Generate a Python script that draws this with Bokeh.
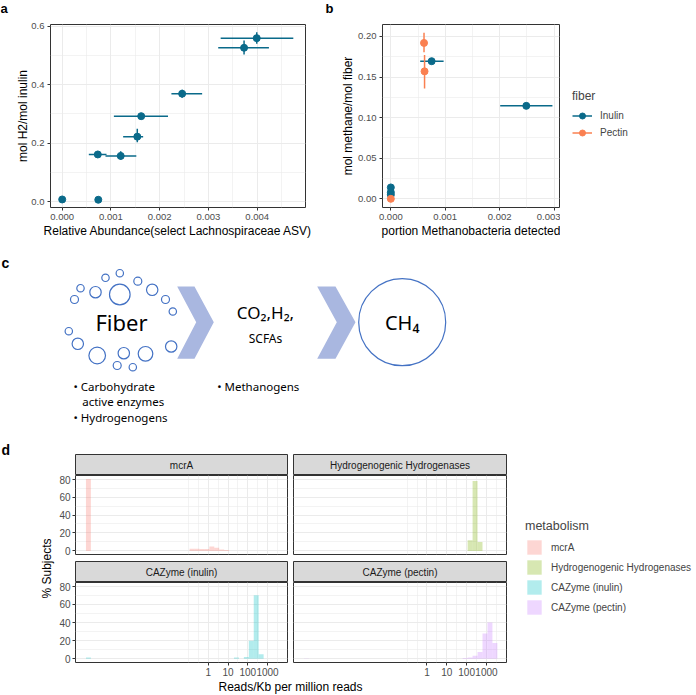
import math
from bokeh.plotting import figure
from bokeh.models import (ColumnDataSource, Range1d, FixedTicker, PrintfTickFormatter,
                          Legend, LegendItem, Grid)
from bokeh.layouts import column, row
from bokeh.core.properties import value
from bokeh.embed import file_html
from bokeh.resources import INLINE

FONT = "Liberation Sans"
CFONT = "Noto Sans"
TEAL = "#0A6A8A"
CORAL = "#FA8051"
GRID = "#EBEBEB"
NAN = float("nan")

# ---------------- panel a data ----------------
a_x   = [0.0,   0.00074, 0.00073,  0.0012,   0.00154, 0.00162, 0.00246, 0.00373, 0.00399]
a_y   = [0.007, 0.006,   0.161,    0.156,    0.222,   0.292,   0.369,   0.526,   0.559]
a_xlo = [0.0,   0.00074, 0.000546, 0.000888, 0.00125, 0.00106, 0.00224, 0.0032,  0.00325]
a_xhi = [0.0,   0.00074, 0.000909, 0.00152,  0.00166, 0.00217, 0.00287, 0.00424, 0.00474]
a_ylo = [0.007, 0.006,   0.152,    0.143,    0.203,   0.284,   0.355,   0.503,   0.540]
a_yhi = [0.007, 0.006,   0.171,    0.172,    0.249,   0.300,   0.382,   0.551,   0.579]
A_XT = [0.0, 0.001, 0.002, 0.003, 0.004]
A_XM = [0.0005, 0.0015, 0.0025, 0.0035, 0.0045]
A_YT = [0.0, 0.2, 0.4, 0.6]
A_YM = [0.1, 0.3, 0.5]

# ---------------- panel b data ----------------
b_in_x   = [0.0, 0.0, 0.0, 0.00075, 0.00249]
b_in_y   = [0.014, 0.008, 0.005, 0.1695, 0.1145]
b_in_xlo = [0.0, 0.0, 0.0, 0.00054, 0.00201]
b_in_xhi = [0.0, 0.0, 0.0, 0.00097, 0.00297]
b_pe_x   = [0.00061, 0.00062, 0.0]
b_pe_y   = [0.192, 0.157, 0.0]
b_pe_ylo = [0.1805, 0.136, 0.0]
b_pe_yhi = [0.2044, 0.177, 0.0]
fibers = ["Inulin", "Pectin"]
B_XT = [0.0, 0.001, 0.002, 0.003]
B_XM = [0.0005, 0.0015, 0.0025]
B_YT = [0.0, 0.05, 0.10, 0.15, 0.20]
B_YM = [0.025, 0.075, 0.125, 0.175]

# ---------------- panel d data (log10 lower bin edges, % subjects) ----------------
d_labels = ["mcrA", "Hydrogenogenic Hydrogenases", "CAZyme (inulin)", "CAZyme (pectin)"]
d_colors = ["#F8766D", "#7CAE00", "#00BFC4", "#C77CFF"]
BIN_W = 0.25
mcra_log = [-6.2, -0.95, -0.7, -0.45, -0.2, 0.05, 0.3, 0.55, 0.8]
mcra_pct = [80, 2.5, 2.5, 2, 2, 5, 3.5, 1.5, 1]
hyd_log = [2.05, 2.3, 2.55]
hyd_pct = [12, 78, 10]
inu_log = [-6.2, 1.3, 1.8, 2.05, 2.3, 2.55]
inu_pct = [1.5, 1.5, 2, 20, 70, 5]
pec_log = [-6.2, 1.8, 2.05, 2.3, 2.55, 2.8, 3.05, 3.3]
pec_pct = [0.5, 1, 1.5, 3.5, 7.5, 28, 40, 17.5]
D_XT = [1, 10, 100, 1000]
D_XM = [0.1, 10 ** -0.5, 10 ** 0.5, 10 ** 1.5, 10 ** 2.5, 10 ** 3.5]
D_YT = [0, 20, 40, 60, 80]
D_YM = [10, 30, 50, 70]

# ---------------- panel c diagram ----------------
c_circ_x = [74, 80, 95, 105, 119.3, 119.3, 137.3, 151.7, 165, 172.3, 68.3, 77.3, 96.7, 123.3, 116.7, 132.3, 145, 170.7]
c_circ_y = [59, 47.7, 51.7, 37.3, 32.7, 54, 40.7, 49.3, 59, 71, 90.7, 103.3, 115, 112.7, 125, 126.7, 113.3, 106]
c_circ_r = [4, 3.7, 5.7, 3.7, 3.7, 10.3, 4, 5.7, 4, 3.7, 3.7, 5.7, 8.3, 5.7, 4, 3.7, 7.3, 5.7]
c_chev_xs = [[176.7, 194, 213.3, 194, 176.7, 195.7], [316.7, 335, 355, 335, 316.7, 336.3]]
c_chev_ys = [[46, 46, 81.7, 118.3, 118.3, 81.7], [46, 46, 81.7, 118.3, 118.3, 81.7]]


def fig(**kw):
    base = dict(output_backend="svg", toolbar_location=None)
    base.update(kw)
    return figure(**base)


def blank(width, height, xr, yr, **kw):
    opts = dict(min_border_left=0, min_border_right=0, min_border_top=0, min_border_bottom=0)
    opts.update(kw)
    p = fig(width=width, height=height, x_range=Range1d(*xr), y_range=Range1d(*yr),
            x_axis_location=None, y_axis_location=None, outline_line_color=None, **opts)
    p.grid.visible = False
    return p


def style_axes(p, tick_size="9.5px", title_size="12px", label_standoff=1):
    for ax in p.axis:
        ax.axis_line_color = None
        ax.major_tick_line_color = "#333333"
        ax.major_tick_out = 3
        ax.major_tick_in = 0
        ax.minor_tick_line_color = None
        ax.major_label_text_font = FONT
        ax.major_label_text_font_size = tick_size
        ax.major_label_text_color = "#4D4D4D"
        ax.major_label_standoff = 2
        ax.axis_label_text_font = FONT
        ax.axis_label_text_font_size = title_size
        ax.axis_label_text_font_style = "normal"
        ax.axis_label_text_color = "black"
        ax.axis_label_standoff = label_standoff


def style_grid(p):
    for g in p.grid:
        g.grid_line_color = GRID
        g.grid_line_width = 1
        g.minor_grid_line_color = GRID
        g.minor_grid_line_width = 0.6
    p.outline_line_color = "#333333"
    p.outline_line_width = 1


def label_text(p, x, y, t, size="14px", bold=True, align="left", font=FONT, angle=0):
    p.text(x=[x], y=[y], text=[t], text_font=value(font), text_font_size=value(size),
           text_font_style="bold" if bold else "normal", text_align=align,
           text_baseline="middle", text_color="black", angle=angle)


def style_legend(leg, title_size, gw, gh):
    leg.title_text_font = FONT
    leg.title_text_font_size = title_size
    leg.title_text_font_style = "normal"
    leg.label_text_font = FONT
    leg.label_text_font_size = "10px"
    leg.glyph_width = gw
    leg.glyph_height = gh
    leg.label_height = gh
    leg.spacing = 2
    leg.padding = 0
    leg.margin = 0
    leg.label_standoff = 8
    leg.title_standoff = 5
    leg.border_line_color = None
    leg.background_fill_alpha = 0


# ---------------- labels row ----------------
labels_ab = blank(696, 16, (0, 696), (0, 16))
label_text(labels_ab, 0, 8, "a", size="13px")
label_text(labels_ab, 325, 8, "b", size="13px")

TOP = 8
# ---------------- panel a ----------------
pa = fig(width=320, height=224, x_range=Range1d(-0.00024, 0.00499), y_range=Range1d(-0.0205, 0.6057),
         min_border_left=50, min_border_right=15, min_border_top=TOP, min_border_bottom=33,
         x_axis_label="Relative Abundance(select Lachnospiraceae ASV)", y_axis_label="mol H2/mol inulin")
sa = ColumnDataSource(dict(x=a_x, y=a_y, xlo=a_xlo, xhi=a_xhi, ylo=a_ylo, yhi=a_yhi))
pa.segment(x0="xlo", y0="y", x1="xhi", y1="y", source=sa, line_color=TEAL, line_width=1.5)
pa.segment(x0="x", y0="ylo", x1="x", y1="yhi", source=sa, line_color=TEAL, line_width=1.5)
pa.scatter("x", "y", source=sa, size=7, color=TEAL)
pa.xaxis.ticker = FixedTicker(ticks=A_XT, minor_ticks=A_XM)
pa.yaxis.ticker = FixedTicker(ticks=A_YT, minor_ticks=A_YM)
pa.xaxis.formatter = PrintfTickFormatter(format="%.3f")
pa.yaxis.formatter = PrintfTickFormatter(format="%.1f")
style_axes(pa)
pa.yaxis.axis_label_standoff = -2
style_grid(pa)

# ---------------- panel b ----------------
pb = fig(width=240, height=224, x_range=Range1d(-0.000153, 0.0031), y_range=Range1d(-0.0107, 0.2147),
         min_border_left=62, min_border_right=1, min_border_top=TOP, min_border_bottom=33,
         x_axis_label="portion Methanobacteria detected", y_axis_label="mol methane/mol fiber")
si = ColumnDataSource(dict(x=b_in_x, y=b_in_y, xlo=b_in_xlo, xhi=b_in_xhi))
sp = ColumnDataSource(dict(x=b_pe_x, y=b_pe_y, ylo=b_pe_ylo, yhi=b_pe_yhi))
pb.segment(x0="xlo", y0="y", x1="xhi", y1="y", source=si, line_color=TEAL, line_width=1.5)
pb.scatter("x", "y", source=si, size=7, color=TEAL)
pb.segment(x0="x", y0="ylo", x1="x", y1="yhi", source=sp, line_color=CORAL, line_width=1.5)
pb.scatter("x", "y", source=sp, size=7, color=CORAL)
pb.xaxis.ticker = FixedTicker(ticks=B_XT, minor_ticks=B_XM)
pb.yaxis.ticker = FixedTicker(ticks=B_YT, minor_ticks=B_YM)
pb.xaxis.formatter = PrintfTickFormatter(format="%.3f")
pb.yaxis.formatter = PrintfTickFormatter(format="%.2f")
style_axes(pb)
pb.yaxis.axis_label_standoff = 0
style_grid(pb)

# legend for b (key proxies carry no data points); frame spans ref y 24..207
pbl = blank(136, 224, (0, 1), (0, 1), min_border_top=TOP, min_border_bottom=33)
b_items = []
for lab, colr in zip(fibers, [TEAL, CORAL]):
    r1 = pbl.segment(x0=[NAN], y0=[NAN], x1=[NAN], y1=[NAN], line_color=colr, line_width=1.5)
    r2 = pbl.scatter(x=[NAN], y=[NAN], size=7, color=colr)
    b_items.append(LegendItem(label=lab, renderers=[r1, r2]))
leg_b = Legend(items=b_items, title="fiber", location=(12, 67))
style_legend(leg_b, "12px", 20, 15)
pbl.add_layout(leg_b, "center")

# ---------------- panel c ----------------
pc = blank(696, 202, (0, 696), (202, 0))
label_text(pc, 1, 22, "c")
pc.circle(x=c_circ_x, y=c_circ_y, radius=c_circ_r, fill_color=None, line_color="#4472C4", line_width=1.2)
pc.patches(xs=c_chev_xs, ys=c_chev_ys, fill_color="#A9B7E0", line_color=None)
pc.circle(x=[401.7], y=[81.7], radius=[43.5], fill_color=None, line_color="#4472C4", line_width=1.2)
label_text(pc, 121, 81.7, "Fiber", size="22px", bold=False, align="center", font=CFONT)
label_text(pc, 265, 71.7, "CO₂,H₂,", size="17px", bold=False, align="center", font=CFONT)
label_text(pc, 265, 98, "SCFAs", size="12px", bold=False, align="center", font=CFONT)
label_text(pc, 401.7, 81.7, "CH₄", size="20px", bold=False, align="center", font=CFONT)
label_text(pc, 73, 145.7, "• Carbohydrate", size="11.5px", bold=False, font=CFONT)
label_text(pc, 81.7, 160.7, "active enzymes", size="11.5px", bold=False, font=CFONT)
label_text(pc, 73, 177.3, "• Hydrogenogens", size="11.5px", bold=False, font=CFONT)
label_text(pc, 216.7, 145.7, "• Methanogens", size="11.5px", bold=False, font=CFONT)

# ---------------- panel d ----------------
D_XR = (10 ** -6.73, 10 ** 4.01)
D_YR = (-4, 84)


def col_geom(left):
    return (234, 18, 3) if left else (217, 3, 1)


def strip(lab, left, top_pad):
    w, ml, mr = col_geom(left)
    p = fig(width=w, height=21 + top_pad, x_range=Range1d(0, 1), y_range=Range1d(0, 1),
            x_axis_location=None, y_axis_location=None, min_border_left=ml, min_border_right=mr,
            min_border_top=top_pad, min_border_bottom=0, background_fill_color="#D9D9D9",
            outline_line_color="#333333")
    p.grid.visible = False
    p.text(x=[0.5], y=[0.5], text=[lab], text_font=value(FONT), text_font_size=value("10px"),
           text_align="center", text_baseline="middle", text_color="#1A1A1A")
    return p


def facet(left, bottom, logs, pct, color):
    w, ml, mr = col_geom(left)
    mb = 16 if bottom else 7
    p = fig(width=w, height=(80 if bottom else 79) + mb, x_axis_type="log",
            x_range=Range1d(*D_XR), y_range=Range1d(*D_YR),
            x_axis_location="below" if bottom else None, y_axis_location="left" if left else None,
            min_border_left=ml, min_border_right=mr, min_border_top=0, min_border_bottom=mb)
    p.grid.visible = False
    p.add_layout(Grid(dimension=0, ticker=FixedTicker(ticks=D_XT, minor_ticks=D_XM)))
    p.add_layout(Grid(dimension=1, ticker=FixedTicker(ticks=D_YT, minor_ticks=D_YM)))
    for g in p.grid:
        if g.visible:
            g.grid_line_color = GRID
            g.minor_grid_line_color = GRID
            g.minor_grid_line_width = 0.6
    p.outline_line_color = "#333333"
    src = ColumnDataSource(dict(left=[10 ** v for v in logs], right=[10 ** (v + BIN_W) for v in logs], top=pct))
    p.quad(left="left", right="right", bottom=0, top="top", source=src,
           fill_color=color, fill_alpha=0.3, line_color=None)
    if bottom:
        p.xaxis.ticker = FixedTicker(ticks=D_XT)
        p.xaxis.formatter = PrintfTickFormatter(format="%d")
    if left:
        p.yaxis.ticker = FixedTicker(ticks=D_YT)
    style_axes(p, tick_size="10px")
    for ax in p.axis:
        ax.major_label_standoff = 2
    return p


s1L = strip(d_labels[0], True, 12)
p1L = facet(True, False, mcra_log, mcra_pct, d_colors[0])
s2L = strip(d_labels[2], True, 0)
p2L = facet(True, True, inu_log, inu_pct, d_colors[2])
s1R = strip(d_labels[1], False, 12)
p1R = facet(False, False, hyd_log, hyd_pct, d_colors[1])
s2R = strip(d_labels[3], False, 0)
p2R = facet(False, True, pec_log, pec_pct, d_colors[3])

py = blank(56, 236, (0, 56), (0, 236))
label_text(py, 1, 229, "d")
label_text(py, 46.7, 110, "% Subjects", size="12px", bold=False, align="center", angle=math.pi / 2)

pleg = blank(189, 236, (0, 1), (0, 1))
d_items = []
for lab, colr in zip(d_labels, d_colors):
    r = pleg.quad(left=[NAN], right=[NAN], bottom=[NAN], top=[NAN], fill_color=colr, fill_alpha=0.3,
                  line_color=None)
    d_items.append(LegendItem(label=lab, renderers=[r]))
leg_d = Legend(items=d_items, title="metabolism", location=(18, 62))
style_legend(leg_d, "12.5px", 18, 18)
pleg.add_layout(leg_d, "center")

px = blank(696, 17, (0, 696), (0, 17))
label_text(px, 290, 8.5, "Reads/Kb per million reads", size="12px", bold=False, align="center")

root = column(
    labels_ab,
    row(pa, pb, pbl),
    pc,
    row(py, column(s1L, p1L, s2L, p2L), column(s1R, p1R, s2R, p2R), pleg),
    px,
)

open("out.html", "w").write(file_html(root, INLINE))
